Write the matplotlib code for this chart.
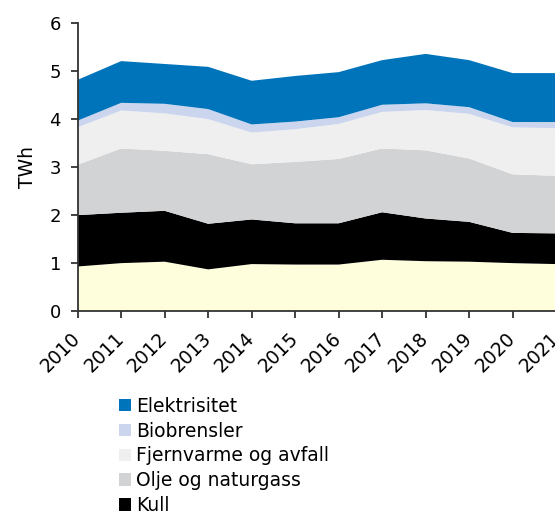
import matplotlib
matplotlib.use("Agg")
import matplotlib.pyplot as plt
from matplotlib.patches import Patch

# Energibruk etter energikilde, TWh
years = [2010, 2011, 2012, 2013, 2014, 2015, 2016, 2017, 2018, 2019, 2020, 2021]
annet = [0.92, 0.99, 1.02, 0.86, 0.97, 0.96, 0.96, 1.06, 1.03, 1.02, 0.99, 0.97]
kull = [1.07, 1.05, 1.06, 0.95, 0.93, 0.86, 0.86, 0.99, 0.89, 0.83, 0.63, 0.64]
olje = [1.05, 1.34, 1.25, 1.45, 1.15, 1.28, 1.34, 1.33, 1.42, 1.32, 1.22, 1.20]
fjernvarme = [0.78, 0.79, 0.78, 0.73, 0.66, 0.68, 0.73, 0.76, 0.84, 0.93, 0.98, 0.99]
bio = [0.14, 0.16, 0.20, 0.21, 0.17, 0.16, 0.14, 0.15, 0.14, 0.14, 0.11, 0.13]
el = [0.85, 0.87, 0.83, 0.88, 0.91, 0.95, 0.94, 0.93, 1.03, 0.98, 1.02, 1.02]

labels = ["Elektrisitet", "Biobrensler", "Fjernvarme og avfall",
          "Olje og naturgass", "Kull"]
colors = ["#FFFEDC", "#000000", "#D2D3D5", "#EFEFEF", "#CBD6EE", "#0074BB"]

plt.rcParams['font.family'] = ['DejaVu Sans']
plt.rcParams['font.size'] = 13

fig = plt.figure(figsize=(5.55, 5.16), dpi=100)
ax = fig.add_axes([0.14, 0.398, 0.862, 0.558])

ax.stackplot(years, annet, kull, olje, fjernvarme, bio, el,
             colors=colors, linewidth=0)

ax.set_xlim(2010, 2021)
ax.set_ylim(0, 6)
ax.set_xticks(years)
ax.set_xticklabels([str(y) for y in years], rotation=45, ha='right',
                   va='center', rotation_mode='anchor', fontsize=13.5)
ax.set_yticks(range(7))
ax.set_ylabel("TWh", fontsize=13.5, labelpad=9)

for s in ["top", "right"]:
    ax.spines[s].set_visible(False)
for s in ["left", "bottom"]:
    ax.spines[s].set_color("#333333")
    ax.spines[s].set_linewidth(1.3)
ax.tick_params(direction='out', length=5, width=1.3, color="#333333")
ax.tick_params(axis='y', pad=7)
ax.tick_params(axis='x', pad=13)

handles = [Patch(facecolor=c, edgecolor='none') for c in colors[::-1][:5]]
fig.legend(handles, labels, loc='upper left', bbox_to_anchor=(0.214, 0.231),
           frameon=False, fontsize=13.5, handlelength=0.64, handleheight=0.64,
           handletextpad=0.28, labelspacing=0.31, borderpad=0, borderaxespad=0)

fig.savefig("out.png", dpi=100)
